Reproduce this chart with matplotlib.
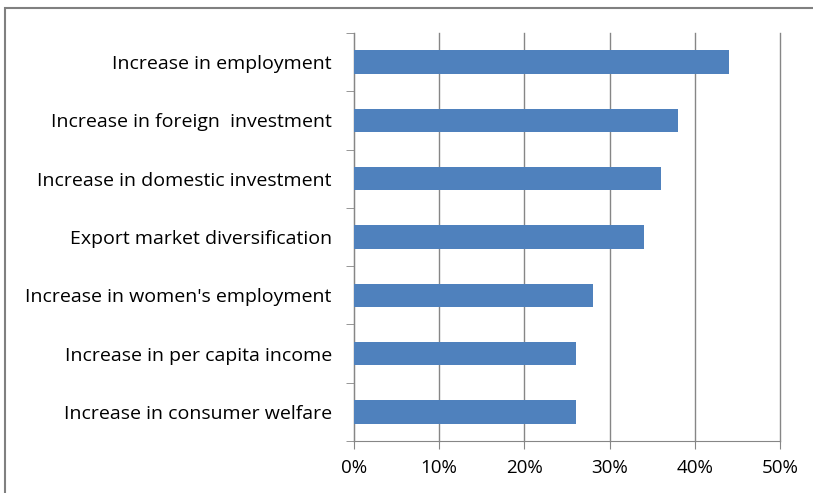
import numpy as np
import matplotlib.pyplot as plt
from matplotlib.patches import Rectangle
from matplotlib.ticker import FixedLocator, PercentFormatter

categories = ['Increase in employment', 'Increase in foreign  investment',
              'Increase in domestic investment', 'Export market diversification',
              "Increase in women's employment", 'Increase in per capita income',
              'Increase in consumer welfare']
values = [44, 38, 36, 34, 28, 26, 26]

plt.rcParams['font.family'] = ['Open Sans', 'DejaVu Sans']

fig = plt.figure(figsize=(8.13, 4.93), dpi=100, facecolor='white')
ax = fig.add_axes([354/813, 1-441/493, (780-354)/813, (441-33)/493])

n = len(categories)
ypos = np.arange(n)[::-1]
ax.barh(ypos, values, height=0.4, color='#4F81BD', zorder=3)

ax.set_xlim(0, 50)
ax.set_ylim(-0.5, n-0.5)
ax.set_xticks(np.arange(0, 51, 10))
ax.xaxis.set_major_formatter(PercentFormatter(decimals=0))
ax.set_yticks(ypos)
ax.set_yticklabels(categories)
ax.yaxis.set_minor_locator(FixedLocator(np.arange(-0.5, n, 1)))
ax.tick_params(axis='y', which='major', length=0, pad=16, labelsize=14, colors='black')
ax.tick_params(axis='y', which='minor', length=6, color='#868686')
ax.tick_params(axis='x', length=6, color='#868686', labelsize=13.5, pad=7)
ax.grid(axis='x', color='#868686', linewidth=1, zorder=0)
for gl in ax.get_xgridlines():
    gl.set_clip_on(False)

for s in ['top', 'right']:
    ax.spines[s].set_visible(False)
for s in ['left', 'bottom']:
    ax.spines[s].set_color('#868686')

# chart border (extends past the right and bottom edge)
fig.patches.append(Rectangle((5/813, -0.05), 1.1, 1-8/493+0.05,
                             transform=fig.transFigure, fill=False,
                             edgecolor='#808080', linewidth=1.5))

fig.savefig('out.png', dpi=100)
